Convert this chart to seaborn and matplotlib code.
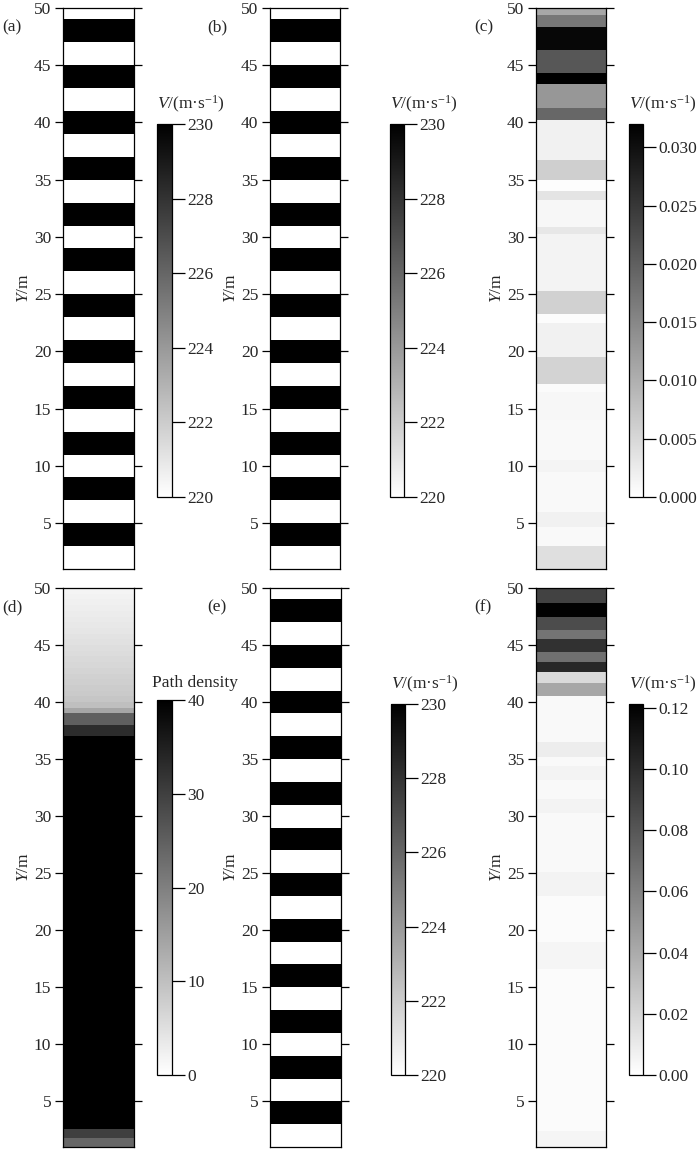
import numpy as np
import pandas as pd
import seaborn as sns
import matplotlib.pyplot as plt
from matplotlib.colors import LinearSegmentedColormap

# --- layered velocity model shown in (a), (b), (e): upper bound of each layer (m) and V (m/s)
layer_tops = [3, 5, 7, 9, 11, 13, 15, 17, 19, 21, 23, 25, 27,
              29, 31, 33, 35, 37, 39, 41, 43, 45, 47, 49, 50]
layer_vel = [220, 230, 220, 230, 220, 230, 220, 230, 220, 230, 220, 230, 220,
             230, 220, 230, 220, 230, 220, 230, 220, 230, 220, 230, 220]

# --- (c) velocity error profile: upper bound of each band (m) and value
c_tops = [3.0, 4.7, 6.0, 9.5, 10.5, 14.0, 16.5, 17.2, 19.5, 22.5, 23.3, 25.3,
          30.3, 30.9, 33.2, 34.0, 35.0, 36.7, 40.2, 41.3, 43.4, 44.3, 46.3,
          48.25, 49.4, 50.0]
c_vals = [0.0040, 0.0008, 0.0018, 0.0008, 0.0014, 0.0008, 0.0011, 0.0005, 0.0055,
          0.0018, 0.0004, 0.0058, 0.0015, 0.0030, 0.0010, 0.0034, 0.0003, 0.0060,
          0.0018, 0.0190, 0.0130, 0.0320, 0.0210, 0.0310, 0.0170, 0.0110]

# --- (d) path density profile
d_tops = [1.8, 2.6, 37.0, 38.0, 39.0, 39.5, 40.0, 40.5, 41.0, 41.5, 42.0, 42.5,
          43.0, 43.5, 44.0, 44.5, 45.0, 45.5, 46.0, 46.5, 47.0, 47.5, 48.0,
          48.5, 49.0, 49.5, 50.0]
d_vals = [24, 30, 45, 33, 25, 14, 10.0, 9.0, 8.4, 8.0, 7.6, 7.2,
          6.8, 6.4, 6.0, 5.6, 5.2, 4.8, 4.4, 4.0, 3.6, 3.3, 3.0,
          2.7, 2.4, 2.1, 1.8]

# --- (f) velocity error profile
f_tops = [2.4, 16.6, 19.0, 23.0, 25.1, 30.3, 31.5, 33.2, 34.4, 35.2, 36.5,
          40.5, 41.7, 42.6, 43.5, 44.4, 45.5, 46.3, 47.5, 48.7, 50.0]
f_vals = [0.005, 0.002, 0.005, 0.002, 0.006, 0.003, 0.006, 0.003, 0.006, 0.003, 0.009,
          0.003, 0.042, 0.018, 0.102, 0.068, 0.098, 0.066, 0.085, 0.120, 0.090]

y_ticks = [5, 10, 15, 20, 25, 30, 35, 40, 45, 50]
v_ticks = [220, 222, 224, 226, 228, 230]
c_ticks = [0.000, 0.005, 0.010, 0.015, 0.020, 0.025, 0.030]
d_ticks = [0, 10, 20, 30, 40]
f_ticks = [0.00, 0.02, 0.04, 0.06, 0.08, 0.10, 0.12]

DY = 0.1
Y_TOP = 50.0
y_centers = np.round(np.arange(Y_TOP - DY / 2, 1.0, -DY), 3)
N_COLS = 8
FS = 12.5


def profile_frame(tops, vals):
    idx = np.searchsorted(tops, y_centers)
    col = np.asarray(vals, dtype=float)[idx]
    return pd.DataFrame(np.repeat(col[:, None], N_COLS, axis=1), index=y_centers)


def px_box(x0, y0, x1, y1, W=700, H=1149):
    return [x0 / W, 1 - y1 / H, (x1 - x0) / W, (y1 - y0) / H]


sns.set_style("ticks")
plt.rcParams['font.family'] = ['Liberation Serif', 'DejaVu Serif']
plt.rcParams['mathtext.fontset'] = 'custom'
plt.rcParams['mathtext.rm'] = 'Liberation Serif'
plt.rcParams['mathtext.it'] = 'Liberation Serif:italic'
plt.rcParams['axes.linewidth'] = 0.9

cmap = LinearSegmentedColormap.from_list("wk", ["white", "black"])
vlabel = r"$\mathit{V}$/(m·s$^{-1}$)"

panels = [
    ("(a)", profile_frame(layer_tops, layer_vel), 220, 230, v_ticks, "{:.0f}", vlabel,
     (63, 8, 134, 569), (157, 124, 172, 497), 2, 27),
    ("(b)", profile_frame(layer_tops, layer_vel), 220, 230, v_ticks, "{:.0f}", vlabel,
     (270, 8, 340, 569), (390, 124, 404, 497), 207, 27),
    ("(c)", profile_frame(c_tops, c_vals), 0, 0.032, c_ticks, "{:.3f}", vlabel,
     (536, 8, 606, 569), (629, 124, 643, 497), 474, 27),
    ("(d)", profile_frame(d_tops, d_vals), 0, 40, d_ticks, "{:.0f}", "Path density",
     (63, 588, 134, 1147), (157, 700, 172, 1075), 2, 607),
    ("(e)", profile_frame(layer_tops, layer_vel), 220, 230, v_ticks, "{:.0f}", vlabel,
     (270, 588, 341, 1147), (391, 704, 405, 1075), 207, 607),
    ("(f)", profile_frame(f_tops, f_vals), 0, 0.1213, f_ticks, "{:.2f}", vlabel,
     (536, 588, 606, 1147), (629, 704, 643, 1075), 474, 607),
]

fig = plt.figure(figsize=(7, 11.49), dpi=100)

for tag, df, vmin, vmax, ticks, fmt, clabel, abox, cbox, tx, ty in panels:
    ax = fig.add_axes(px_box(*abox))
    cax = fig.add_axes(px_box(*cbox))
    sns.heatmap(df, ax=ax, cbar_ax=cax, cmap=cmap, vmin=vmin, vmax=vmax,
                xticklabels=False, yticklabels=False)

    # axis: Y in metres, ticks on both sides
    ax.set_ylim(len(df), 0)
    ax.set_yticks([(Y_TOP - v) / DY for v in y_ticks])
    ax.set_yticklabels([str(v) for v in y_ticks], rotation=0, fontsize=FS)
    ax.set_xticks([])
    ax.tick_params(axis='y', left=True, right=True, labelright=False,
                   direction='out', length=6, width=0.9, pad=2.5, color='black')
    for sp in ax.spines.values():
        sp.set_visible(True)
        sp.set_color('black')
        sp.set_linewidth(0.9)
    ax.set_ylabel(r"$\mathit{Y}$/m", fontsize=FS, labelpad=1)
    fig.text(tx / 700, 1 - ty / 1149, tag, fontsize=FS, ha='left', va='center')

    # colour bar
    cb = ax.collections[0].colorbar
    cb.set_ticks(ticks)
    cb.ax.set_yticklabels([fmt.format(t) for t in ticks])
    cb.outline.set_visible(True)
    cb.outline.set_linewidth(0.9)
    cb.outline.set_edgecolor('black')
    cax.tick_params(direction='out', length=9, width=0.9, labelsize=FS, pad=2, color='black')
    cax.text(-0.3 if clabel == "Path density" else 0.0, 1.025, clabel, fontsize=FS,
             ha='left', va='bottom', transform=cax.transAxes)

fig.savefig("out.png", dpi=100)
